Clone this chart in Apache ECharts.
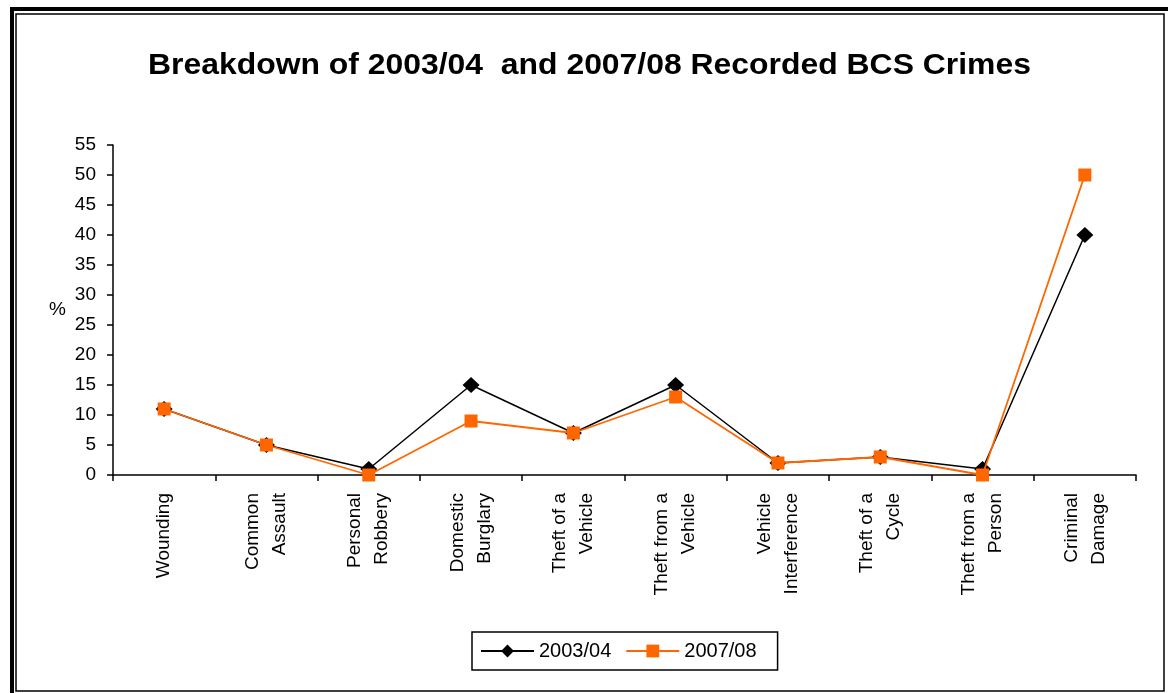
<!DOCTYPE html>
<html>
<head>
<meta charset="utf-8">
<script src="https://cdn.jsdelivr.net/npm/echarts@6/dist/echarts.min.js"></script>
<style>
  html, body { margin: 0; padding: 0; background: #fff; }
  #chart { width: 1168px; height: 693px; }
</style>
</head>
<body>
<div id="chart"></div>
<script>
// Crime categories (two-line labels on the category axis)
const categories = [
  'Wounding', 'Common\nAssault', 'Personal\nRobbery', 'Domestic\nBurglary',
  'Theft of a\nVehicle', 'Theft from a\nVehicle', 'Vehicle\nInterference',
  'Theft of a\nCycle', 'Theft from a\nPerson', 'Criminal\nDamage'
];

// Share of recorded BCS crimes, in percent
const values2003 = [11, 5, 1, 15, 7, 15, 2, 3, 1, 40];
const values2007 = [11, 5, 0, 9, 7, 13, 2, 3, 0, 50];

const seriesNames = ['2003/04', '2007/08'];
const yTicks = { min: 0, max: 55, step: 5 };
const titleText = 'Breakdown of 2003/04  and 2007/08 Recorded BCS Crimes';

const FONT = '"Liberation Sans", Arial, sans-serif';

const chart = echarts.init(document.getElementById('chart'), null, { renderer: 'canvas' });

chart.setOption({
  backgroundColor: '#ffffff',
  animation: false,
  legend: {
    left: 472,
    top: 632,
    padding: [9, 21, 9, 8],
    borderColor: '#000',
    borderWidth: 1.5,
    itemWidth: 53,
    itemHeight: 16,
    itemGap: 14,
    data: seriesNames,
    textStyle: { fontFamily: FONT, fontSize: 20, color: '#000' }
  },
  grid: { left: 113, right: 32, top: 145, bottom: 218, containLabel: false },
  xAxis: {
    type: 'category',
    data: categories,
    boundaryGap: true,
    axisLine: { lineStyle: { color: '#000', width: 1.5 } },
    axisTick: { show: true, length: 6, inside: false, lineStyle: { color: '#000', width: 1.5 } },
    axisLabel: {
      interval: 0,
      rotate: 90,
      margin: 18,
      fontFamily: FONT,
      fontSize: 19,
      lineHeight: 27,
      color: '#000'
    },
    splitLine: { show: false }
  },
  yAxis: {
    type: 'value',
    min: yTicks.min,
    max: yTicks.max,
    interval: yTicks.step,
    name: '%',
    nameLocation: 'middle',
    nameRotate: 0,
    nameGap: 47,
    nameTextStyle: { fontFamily: FONT, fontSize: 19, color: '#000' },
    axisLine: { show: true, lineStyle: { color: '#000', width: 1.5 } },
    axisTick: { show: true, length: 6, lineStyle: { color: '#000', width: 1.5 } },
    axisLabel: { margin: 17, fontFamily: FONT, fontSize: 19, color: '#000' },
    splitLine: { show: false }
  },
  series: [
    {
      name: seriesNames[0],
      type: 'line',
      data: values2003,
      symbol: 'diamond',
      symbolSize: [17, 16],
      lineStyle: { color: '#000', width: 1.5 },
      itemStyle: { color: '#000' },
      z: 2
    },
    {
      name: seriesNames[1],
      type: 'line',
      data: values2007,
      symbol: 'rect',
      symbolSize: 13,
      lineStyle: { color: '#FF6600', width: 1.8 },
      itemStyle: { color: '#FF6600' },
      z: 3
    }
  ],
  graphic: [
    // chart title, slightly widened
    {
      type: 'text',
      x: 148,
      y: 51,
      scaleX: 1.1,
      style: {
        text: titleText,
        font: 'bold 29px ' + FONT,
        fill: '#000'
      }
    },
    // double frame around the chart area
    {
      type: 'rect',
      shape: { x: 12, y: 9, width: 1170, height: 700 },
      style: { fill: null, stroke: '#000', lineWidth: 4 },
      silent: true
    },
    {
      type: 'rect',
      shape: { x: 16, y: 14, width: 1148, height: 677 },
      style: { fill: null, stroke: '#000', lineWidth: 1.5 },
      silent: true
    }
  ]
});
</script>
</body>
</html>
